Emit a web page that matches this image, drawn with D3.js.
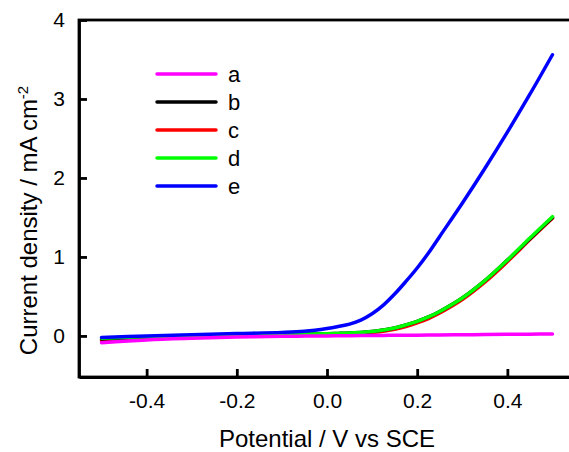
<!DOCTYPE html>
<html>
<head>
<meta charset="utf-8">
<script src="https://cdn.jsdelivr.net/npm/d3@7"></script>
<style>
  body { margin: 0; background: #fff; }
  svg { display: block; font-family: "Liberation Sans", Arial, sans-serif; }
  .axis path, .axis line { stroke: #000; stroke-width: 2.8; }
  .axis text { font-size: 21px; fill: #000; }
</style>
</head>
<body>
<div id="chart"></div>
<script>
// potential (V vs SCE)
var potential = [-0.5, -0.4, -0.3, -0.2, -0.1, -0.05, 0, 0.025, 0.05, 0.075, 0.1, 0.125, 0.15, 0.175, 0.2, 0.225, 0.25, 0.3, 0.35, 0.4, 0.45, 0.5];

// current density (mA cm-2)
var curveA = [-0.085, -0.05, -0.03, -0.015, -0.005, -0.002, 0.0, 0.0015, 0.003, 0.0045, 0.006, 0.007, 0.008, 0.009, 0.01, 0.011, 0.012, 0.015, 0.017, 0.02, 0.022, 0.025];
var curveB = [-0.04, -0.015, 0.0, 0.012, 0.02, 0.024, 0.028, 0.032, 0.037, 0.045, 0.055, 0.075, 0.10, 0.14, 0.185, 0.24, 0.31, 0.48, 0.70, 0.96, 1.23, 1.50];
var curveC = [-0.06, -0.03, -0.015, 0.0, 0.01, 0.015, 0.02, 0.022, 0.026, 0.033, 0.045, 0.06, 0.085, 0.12, 0.165, 0.22, 0.29, 0.46, 0.68, 0.94, 1.22, 1.49];
var curveD = [-0.03, -0.01, 0.0, 0.015, 0.02, 0.024, 0.028, 0.032, 0.037, 0.045, 0.055, 0.075, 0.10, 0.14, 0.185, 0.24, 0.31, 0.48, 0.70, 0.96, 1.24, 1.51];
var curveE = [-0.02, 0.0, 0.015, 0.03, 0.045, 0.06, 0.095, 0.12, 0.15, 0.20, 0.28, 0.39, 0.53, 0.69, 0.86, 1.05, 1.26, 1.68, 2.12, 2.58, 3.06, 3.56];

var labels = ["a", "b", "c", "d", "e"];
var colors = ["#ff00ff", "#000000", "#ff0000", "#00ff00", "#0000ff"];
var xTicks = [-0.4, -0.2, 0.0, 0.2, 0.4];
var yTicks = [0, 1, 2, 3, 4];

var series = [curveA, curveB, curveC, curveD, curveE].map(function(vals, i) {
  return { name: labels[i], color: colors[i],
           points: vals.map(function(v, j) { return [potential[j], v]; }) };
});

var W = 569, H = 452;
var margin = {top: 20, right: -6, bottom: 75, left: 79},
    width = W - margin.left - margin.right,
    height = H - margin.top - margin.bottom;

var svg = d3.select("#chart").append("svg")
    .attr("width", W)
    .attr("height", H)
  .append("g")
    .attr("transform", "translate(" + margin.left + "," + margin.top + ")");

var x = d3.scaleLinear().domain([-0.55, 0.55]).range([0, width]);
var y = d3.scaleLinear().domain([-0.52, 4]).range([height, 0]);

// plain hyphen instead of unicode minus
var fmtX = function(d) { return d.toFixed(1); };

// frame
svg.append("rect")
    .attr("width", width)
    .attr("height", height)
    .attr("fill", "none")
    .attr("stroke", "#000")
    .attr("stroke-width", 2.8);

svg.append("g")
    .attr("class", "axis")
    .attr("transform", "translate(0," + height + ")")
    .call(d3.axisBottom(x).tickValues(xTicks).tickFormat(fmtX)
      .tickSizeInner(-8).tickSizeOuter(0).tickPadding(16));

svg.append("g")
    .attr("class", "axis")
    .call(d3.axisLeft(y).tickValues(yTicks).tickFormat(d3.format("d"))
      .tickSizeInner(-8).tickSizeOuter(0).tickPadding(14));

// curves: draw order c, b, d, e, a
var line = d3.line()
    .curve(d3.curveCatmullRom.alpha(0.5))
    .x(function(d) { return x(d[0]); })
    .y(function(d) { return y(d[1]); });

[2, 1, 3, 4, 0].forEach(function(i) {
  svg.append("path")
      .datum(series[i].points)
      .attr("fill", "none")
      .attr("stroke", series[i].color)
      .attr("stroke-width", 3.5)
      .attr("stroke-linecap", "round")
      .attr("d", line);
});

// legend
var legend = svg.append("g")
    .attr("transform", "translate(78,54)");

var row = legend.selectAll("g")
    .data(series)
  .enter().append("g")
    .attr("transform", function(d, i) { return "translate(0," + (i * 28) + ")"; });

row.append("line")
    .attr("x1", 0).attr("x2", 59)
    .attr("stroke", function(d) { return d.color; })
    .attr("stroke-width", 3.5)
    .attr("stroke-linecap", "round");

row.append("text")
    .attr("x", 71)
    .attr("dy", "0.35em")
    .style("font-size", "22px")
    .text(function(d) { return d.name; });

// axis titles
svg.append("text")
    .attr("x", x(0))
    .attr("y", height + 70)
    .attr("text-anchor", "middle")
    .style("font-size", "24px")
    .text("Potential / V vs SCE");

var yt = svg.append("text")
    .attr("transform", "translate(-42," + (height / 2 + 22) + ") rotate(-90)")
    .attr("text-anchor", "middle")
    .style("font-size", "24px");
yt.append("tspan").text("Current density / mA cm");
yt.append("tspan").attr("dy", -9).style("font-size", "15px").text("-2");
</script>
</body>
</html>
